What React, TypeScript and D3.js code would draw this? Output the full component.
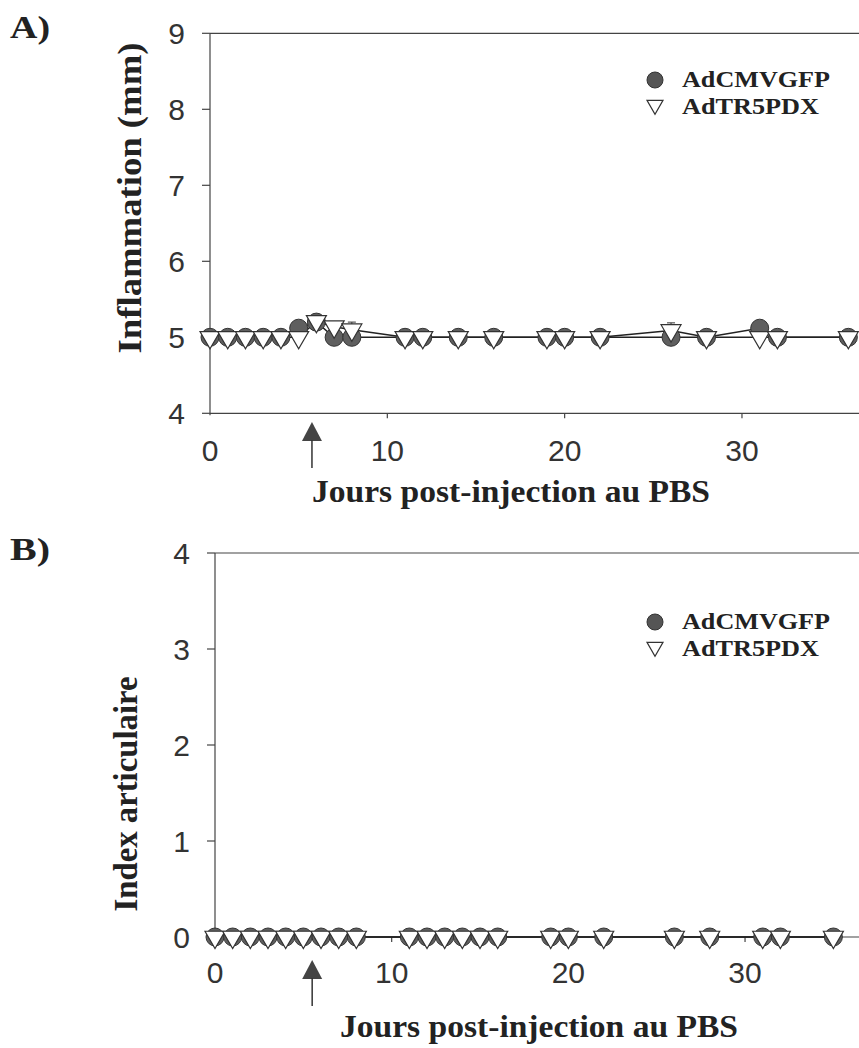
import React from "react";
import * as d3 from "d3";

// ---- Data ----
const daysA = [0, 1, 2, 3, 4, 5, 6, 7, 8, 11, 12, 14, 16, 19, 20, 22, 26, 28, 31, 32, 36];
const gfpA = [5, 5, 5, 5, 5, 5.12, 5.2, 5, 5, 5, 5, 5, 5, 5, 5, 5, 5, 5, 5.12, 5, 5];
const pdxA = [5, 5, 5, 5, 5, 5, 5.21, 5.14, 5.1, 5, 5, 5, 5, 5, 5, 5, 5.09, 5, 5, 5, 5];
const pdxErrA = [0, 0, 0, 0, 0, 0, 0, 0, 0.1, 0, 0, 0, 0, 0, 0, 0, 0.1, 0, 0, 0, 0];

const daysB = [0, 1, 2, 3, 4, 5, 6, 7, 8, 11, 12, 13, 14, 15, 16, 19, 20, 22, 26, 28, 31, 32, 35];
const gfpB = [0, 0, 0, 0, 0, 0, 0, 0, 0, 0, 0, 0, 0, 0, 0, 0, 0, 0, 0, 0, 0, 0, 0];
const pdxB = [0, 0, 0, 0, 0, 0, 0, 0, 0, 0, 0, 0, 0, 0, 0, 0, 0, 0, 0, 0, 0, 0, 0];

const xTicks = [0, 10, 20, 30];
const yTicksA = [4, 5, 6, 7, 8, 9];
const yTicksB = [0, 1, 2, 3, 4];
const seriesNames = ["AdCMVGFP", "AdTR5PDX"];
const xTitle = "Jours post-injection au PBS";
const arrowDayA = 5.75;
const arrowDayB = 5.5;

const AXIS = "#444";
const TXT = "#333";
const SERIF = "'Liberation Serif', 'Times New Roman', serif";
const SANS = "'Liberation Sans', Arial, sans-serif";

function tri(cx: number, cy: number, s: number) {
  const h = (s * Math.sqrt(3)) / 2;
  return `M${cx - s / 2},${cy - h / 3}L${cx + s / 2},${cy - h / 3}L${cx},${cy + (2 * h) / 3}Z`;
}

type PanelProps = {
  label: string;
  yTitle: string;
  yTitleLen: number;
  yTitleCenter: number;
  days: number[];
  gfp: number[];
  pdx: number[];
  pdxErr?: number[];
  xDomainMax: number;
  x0: number;
  yDomain: [number, number];
  yRange: [number, number];
  yTicks: number[];
  xLabelBaseline: number;
  xTitleX: number;
  xTitleY: number;
  yTitleX: number;
  labelY: number;
  legendY: number;
  arrowDay: number;
  arrowTop: number;
};

function Panel(p: PanelProps) {
  const x = d3.scaleLinear().domain([0, p.xDomainMax]).range([p.x0, 859]);
  const y = d3.scaleLinear().domain(p.yDomain).range(p.yRange);
  const line = d3
    .line<[number, number]>()
    .x((d) => x(d[0]))
    .y((d) => y(d[1]));
  const gfpPts: [number, number][] = p.days.map((d, i) => [d, p.gfp[i]]);
  const pdxPts: [number, number][] = p.days.map((d, i) => [d, p.pdx[i]]);
  const yBottom = p.yRange[0];
  const yTop = p.yRange[1];
  const ax = p.x0;
  const arX = x(p.arrowDay);
  return (
    <g>
      <text x={10} y={p.labelY} fontFamily={SERIF} fontWeight="bold" fontSize={32} fill="#222" textLength={40} lengthAdjust="spacingAndGlyphs">
        {p.label}
      </text>
      {/* axes */}
      <line x1={ax} x2={859} y1={yBottom} y2={yBottom} stroke={AXIS} strokeWidth={1.2} />
      <line x1={ax} x2={859} y1={yTop} y2={yTop} stroke={AXIS} strokeWidth={1.2} />
      <line x1={ax} x2={ax} y1={yTop} y2={yBottom + 2} stroke={AXIS} strokeWidth={1.2} />
      {p.yTicks.map((t) => (
        <g key={"y" + t}>
          <line x1={ax - 8} x2={ax} y1={y(t)} y2={y(t)} stroke={AXIS} strokeWidth={1.2} />
          <text x={ax - 25} y={y(t)} dy="0.36em" textAnchor="end" fontFamily={SANS} fontSize={30} fill={TXT}>
            {t}
          </text>
        </g>
      ))}
      {xTicks.map((t) => (
        <g key={"x" + t}>
          {t > 0 && <line x1={x(t)} x2={x(t)} y1={yBottom} y2={yBottom + 5} stroke={AXIS} strokeWidth={1.2} />}
          <text x={x(t)} y={p.xLabelBaseline} textAnchor="middle" fontFamily={SANS} fontSize={30} fill={TXT}>
            {t}
          </text>
        </g>
      ))}
      <text
        x={p.xTitleX}
        y={p.xTitleY}
        textAnchor="middle"
        fontFamily={SERIF}
        fontWeight="bold"
        fontSize={32}
        fill="#222"
        textLength={398}
        lengthAdjust="spacingAndGlyphs"
      >
        {xTitle}
      </text>
      <text
        transform={`translate(${p.yTitleX},${p.yTitleCenter}) rotate(-90)`}
        textAnchor="middle"
        fontFamily={SERIF}
        fontWeight="bold"
        fontSize={33}
        fill="#222"
        textLength={p.yTitleLen}
        lengthAdjust="spacingAndGlyphs"
      >
        {p.yTitle}
      </text>
      {/* arrow */}
      <path d={`M${arX},${p.arrowTop}L${arX + 10},${p.arrowTop + 19}L${arX - 10},${p.arrowTop + 19}Z`} fill="#444" />
      <line x1={arX} x2={arX} y1={p.arrowTop + 18} y2={p.arrowTop + 46} stroke="#333" strokeWidth={1.5} />
      {/* series lines */}
      <path d={line(gfpPts) || ""} fill="none" stroke="#222" strokeWidth={1.5} />
      <path d={line(pdxPts) || ""} fill="none" stroke="#222" strokeWidth={1.5} />
      {/* circles */}
      {gfpPts.map((d, i) => (
        <circle key={"c" + i} cx={x(d[0])} cy={y(d[1])} r={9} fill="#5f5f5f" stroke="#333" strokeWidth={1} />
      ))}
      {/* error bars */}
      {p.pdxErr &&
        pdxPts.map((d, i) =>
          p.pdxErr![i] > 0 ? (
            <g key={"e" + i}>
              <line x1={x(d[0])} x2={x(d[0])} y1={y(d[1])} y2={y(d[1] + p.pdxErr![i])} stroke="#333" strokeWidth={1} />
              <line x1={x(d[0]) - 4} x2={x(d[0]) + 4} y1={y(d[1] + p.pdxErr![i])} y2={y(d[1] + p.pdxErr![i])} stroke="#333" strokeWidth={1} />
            </g>
          ) : null
        )}
      {/* triangles */}
      {pdxPts.map((d, i) => (
        <path key={"t" + i} d={tri(x(d[0]), y(d[1]), 20)} fill="#fff" stroke="#333" strokeWidth={1.2} />
      ))}
      {/* legend */}
      <circle cx={655} cy={p.legendY} r={8} fill="#555" stroke="#333" />
      <text x={682} y={p.legendY + 7} fontFamily={SERIF} fontWeight="bold" fontSize={23} fill="#222" textLength={148} lengthAdjust="spacingAndGlyphs">
        {seriesNames[0]}
      </text>
      <path d={tri(655, p.legendY + 25, 16)} fill="#fff" stroke="#333" strokeWidth={1.2} />
      <text x={682} y={p.legendY + 34} fontFamily={SERIF} fontWeight="bold" fontSize={23} fill="#222" textLength={137} lengthAdjust="spacingAndGlyphs">
        {seriesNames[1]}
      </text>
    </g>
  );
}

export default function App() {
  return (
    <svg width={859} height={1048} style={{ position: "absolute", left: 0, top: 0, background: "#fff" }}>
      <rect width={859} height={1048} fill="#fff" />
      <Panel
        label="A)"
        yTitle="Inflammation (mm)"
        yTitleLen={311}
        yTitleCenter={198}
        days={daysA}
        gfp={gfpA}
        pdx={pdxA}
        pdxErr={pdxErrA}
        xDomainMax={36.6}
        x0={210}
        yDomain={[4, 9]}
        yRange={[413.3, 33.3]}
        yTicks={yTicksA}
        xLabelBaseline={461}
        xTitleX={511}
        xTitleY={502}
        yTitleX={141}
        labelY={38}
        legendY={80}
        arrowDay={arrowDayA}
        arrowTop={422}
      />
      <Panel
        label="B)"
        yTitle="Index articulaire"
        yTitleLen={235}
        yTitleCenter={794}
        days={daysB}
        gfp={gfpB}
        pdx={pdxB}
        xDomainMax={36.45}
        x0={215}
        yDomain={[0, 4]}
        yRange={[937, 553]}
        yTicks={yTicksB}
        xLabelBaseline={983}
        xTitleX={539}
        xTitleY={1037}
        yTitleX={137}
        labelY={560}
        legendY={622}
        arrowDay={arrowDayB}
        arrowTop={960}
      />
    </svg>
  );
}
